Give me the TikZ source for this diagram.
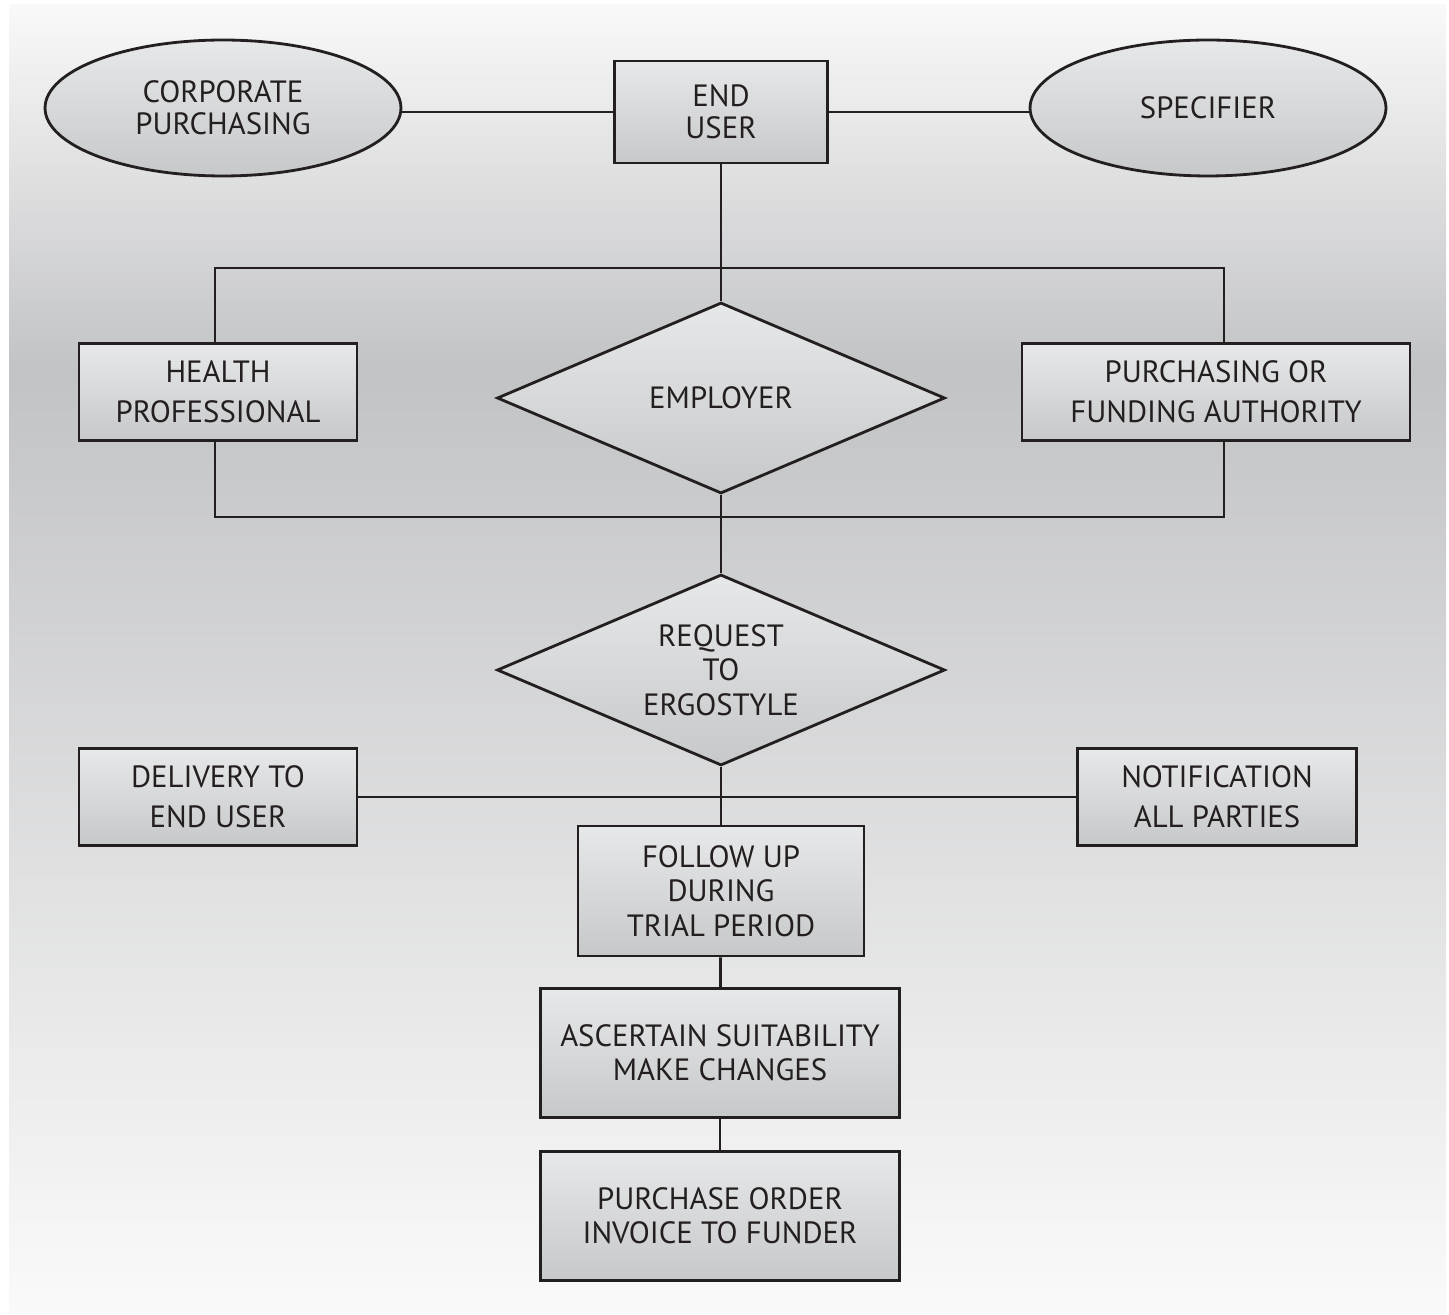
\documentclass[tikz,border=0pt]{standalone}
\usepackage{fontspec}
\setmainfont{PT Sans}
\usetikzlibrary{shapes.geometric}

\definecolor{bgtop}{RGB}{249,249,249}
\definecolor{bgmid}{RGB}{194,195,197}
\definecolor{bgbot}{RGB}{250,250,250}
\definecolor{boxtop}{RGB}{231,232,233}
\definecolor{boxbot}{RGB}{199,200,202}
\definecolor{ink}{RGB}{35,31,32}

\begin{document}
\begin{tikzpicture}[
    x=0.02cm, y=-0.02cm,
    font=\fontsize{17.5}{19.5}\selectfont,
    wide/.style={font=\fontsize{17.5}{22.8}\selectfont},
    tight/.style={font=\fontsize{17.5}{18}\selectfont},
    party/.style={draw=ink, ellipse, line width=1.6pt,
        minimum width=7.12cm, minimum height=2.72cm, inner sep=0pt,
        top color=boxtop, bottom color=boxbot, align=center, text=ink},
    stepbox/.style={draw=ink, rectangle, line width=1.6pt, inner sep=0pt,
        top color=boxtop, bottom color=boxbot, align=center, text=ink},
    choice/.style={draw=ink, diamond, line width=1.6pt, aspect=2.35,
        minimum width=8.96cm, minimum height=3.82cm, inner sep=0pt,
        top color=boxtop, bottom color=boxbot, align=center, text=ink},
    link/.style={draw=ink, line width=1.6pt},
]

% === Background ===
\useasboundingbox (0,0) rectangle (1449,1314);
\shade[top color=bgtop, bottom color=bgmid] (9,5) rectangle (1446,370);
\shade[top color=bgmid, bottom color=bgbot] (9,369) rectangle (1446,1314);

% === Top row ===
\node[party, tight] (corporate) at (223,108) {CORPORATE\\PURCHASING};
\node[stepbox, tight, minimum width=4.26cm, minimum height=2.04cm] (enduser)
    at (721,112) {END\\USER};
\node[party] (specifier) at (1208,108) {SPECIFIER};
\draw[link] (corporate.east |- enduser) -- (enduser);
\draw[link] (enduser) -- (specifier.west |- enduser);

% === Middle row ===
\node[stepbox, wide, minimum width=5.56cm, minimum height=1.94cm] (health)
    at (218,392) {HEALTH\\PROFESSIONAL};
\node[choice] (employer) at (721,398) {EMPLOYER};
\node[stepbox, wide, minimum width=7.76cm, minimum height=1.94cm] (funding)
    at (1216,392) {PURCHASING OR\\FUNDING AUTHORITY};
\coordinate (topbar) at (721,268);
\coordinate (botbar) at (721,517);
\draw[link] ([xshift=-0.06cm]health.north) |- (topbar)
    -| ([xshift=0.16cm]funding.north);
\draw[link] ([xshift=-0.06cm]health.south) |- (botbar)
    -| ([xshift=0.16cm]funding.south);
\draw[link] (enduser) -- (employer);

% === Request ===
\node[choice] (request) at (721,670) {REQUEST\\TO\\ERGOSTYLE};
\draw[link] (employer) -- (request);

% === Delivery and notification ===
\node[stepbox, wide, minimum width=5.56cm, minimum height=1.94cm] (delivery)
    at (218,797) {DELIVERY TO\\END USER};
\node[stepbox, wide, minimum width=5.58cm, minimum height=1.94cm] (notify)
    at (1217,797) {NOTIFICATION\\ALL PARTIES};
\draw[link] (delivery) -- (notify);

% === Follow up chain ===
\node[stepbox, minimum width=5.72cm, minimum height=2.6cm] (followup)
    at (721,891) {FOLLOW UP\\DURING\\TRIAL PERIOD};
\draw[link] (request) -- (followup);

\node[stepbox, minimum width=7.18cm, minimum height=2.58cm] (ascertain)
    at (720,1053) {ASCERTAIN SUITABILITY\\MAKE CHANGES};
\draw[link] (followup) -- (ascertain);

\node[stepbox, minimum width=7.18cm, minimum height=2.58cm] (purchase)
    at (720,1216) {PURCHASE ORDER\\INVOICE TO FUNDER};
\draw[link] (ascertain) -- (purchase);

\end{tikzpicture}
\end{document}
